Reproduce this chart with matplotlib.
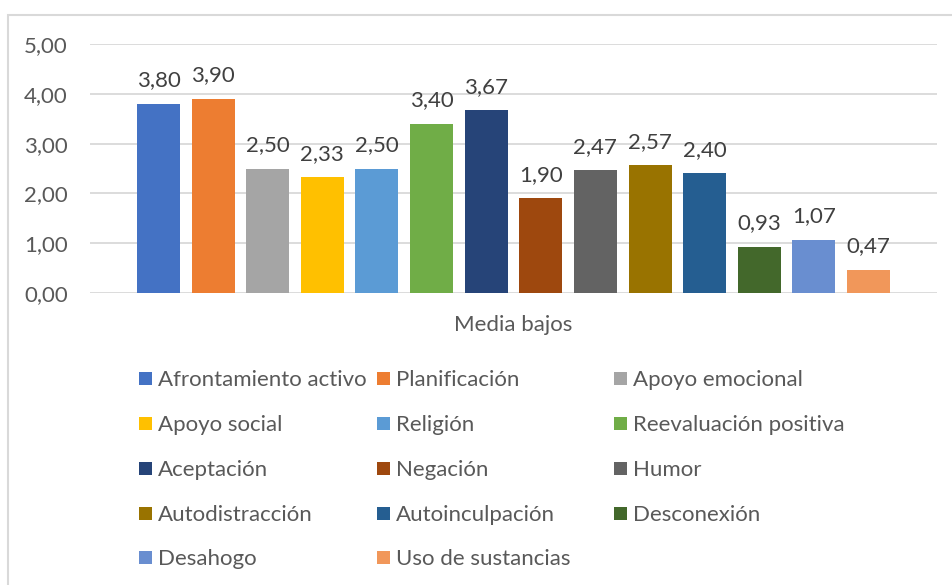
import matplotlib.pyplot as plt
from matplotlib.patches import Rectangle
import numpy as np

# Estrategias de afrontamiento y su media (grupo bajos)
estrategias = ['Afrontamiento activo', 'Planificación', 'Apoyo emocional',
               'Apoyo social', 'Religión', 'Reevaluación positiva',
               'Aceptación', 'Negación', 'Humor',
               'Autodistracción', 'Autoinculpación', 'Desconexión',
               'Desahogo', 'Uso de sustancias']
medias = [3.80, 3.90, 2.50, 2.33, 2.50, 3.40, 3.67, 1.90, 2.47, 2.57, 2.40, 0.93, 1.07, 0.47]
categoria = 'Media bajos'

colores = ['#4472C4', '#ED7D31', '#A5A5A5', '#FFC000', '#5B9BD5', '#70AD47',
           '#264478', '#9E480E', '#636363', '#997300', '#255E91', '#43682B',
           '#698ED0', '#F1975A']

plt.rcParams['font.family'] = ['Lato', 'DejaVu Sans']
texto = '#595959'
fs = 16

fig = plt.figure(figsize=(9.53, 5.85), dpi=100)
W, H = 953, 585

# marco gris del area del grafico
fig.patches.append(Rectangle((8 / W, -0.1), 1.1, 1.1 - 15 / H, transform=fig.transFigure,
                             fill=False, edgecolor='#D9D9D9', linewidth=1.5))

ax = fig.add_axes([90 / W, (H - 293) / H, (937 - 90) / W, (293 - 44) / H])

n = len(medias)
pos = np.arange(n) - (n - 1) / 2
barras = ax.bar(pos, medias, width=43 / 54.6, color=colores, zorder=3)

ax.set_xlim(-7.755, 7.755)
ax.set_ylim(0, 5)
ax.set_yticks(np.arange(0, 6, 1))
ax.set_yticklabels([f'{v:.2f}'.replace('.', ',') for v in np.arange(0, 6, 1)])
ax.set_xticks([])
ax.grid(axis='y', color='#D9D9D9', linewidth=1.3, zorder=0)
for s in ax.spines.values():
    s.set_visible(False)
ax.tick_params(axis='y', length=0, pad=16, labelsize=fs, labelcolor=texto)

# etiquetas de datos
for b, v in zip(barras, medias):
    ax.annotate(f'{v:.2f}'.replace('.', ','), (b.get_x() + b.get_width() / 2, v),
                xytext=(0, 9.5), textcoords='offset points', ha='center', va='bottom',
                fontsize=fs, color='#404040')

fig.text(513 / W, 1 - 325 / H, categoria, ha='center', va='center', fontsize=fs, color=texto)

# leyenda en tres columnas
col_x = [139, 377, 614]
fila_y = [378, 423, 468, 513, 557]
for i, (nombre, c) in enumerate(zip(estrategias, colores)):
    x = col_x[i % 3]
    y = fila_y[i // 3]
    fig.patches.append(Rectangle((x / W, 1 - (y + 6.5) / H), 13 / W, 13 / H,
                                 transform=fig.transFigure, facecolor=c, edgecolor='none'))
    fig.text((x + 19) / W, 1 - y / H, nombre, ha='left', va='center_baseline',
             fontsize=fs, color=texto)

fig.savefig('out.png', dpi=100)
